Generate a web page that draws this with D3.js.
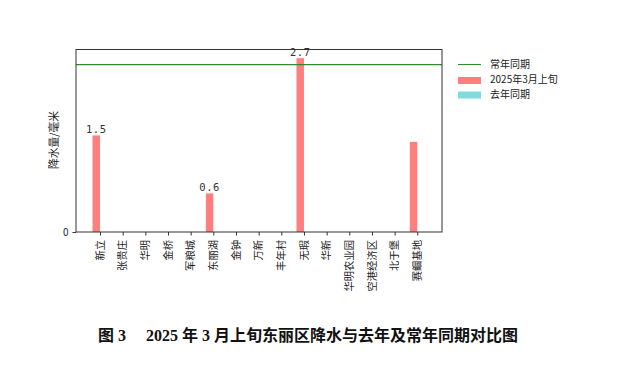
<!DOCTYPE html>
<html><head><meta charset="utf-8">
<script src="https://cdn.jsdelivr.net/npm/d3@7"></script>
<style>body{margin:0;background:#fff}svg{display:block}</style>
</head><body>
<script>
const categories = ["新立","张贵庄","华明","金桥","军粮城","东丽湖","金钟","万新","丰年村","无瑕","华新","华明农业园","空港经济区","北于堡","赛鲴基地"];
const current = [1.5,0,0,0,0,0.6,0,0,0,2.7,0,0,0,0,1.4];
const lastYear = [0,0,0,0,0,0,0,0,0,0,0,0,0,0,0];
const valueLabels = ["1.5","","","","","0.6","","","","2.7","","","","",""];
const normal = 2.6;
const yTicks = [0];
const legendNames = ["常年同期","2025年3月上旬","去年同期"];
const title = "图 3\u2003 2025 年 3 月上旬东丽区降水与去年及常年同期对比图";

const W=619,H=368;
const L=76,R=442,T=49.5,B=232;
const svg=d3.select("body").append("svg").attr("width",W).attr("height",H);
const sans="'Noto Sans CJK SC','DejaVu Sans',sans-serif";

const step=(417.3-100)/14;
const x=d3.scalePoint().domain(categories).range([100,417.3]);
const y=d3.scaleLinear().domain([0,2.7*1.05]).range([B,T]);
const bw=step*0.33;
const red="#ff7f7f", cyan="#7fdcdc", green="#2e8b2e";

// bars
svg.append("g").selectAll("rect").data(categories).join("rect")
  .attr("x",d=>x(d)-bw).attr("width",bw)
  .attr("y",(d,i)=>y(current[i])).attr("height",(d,i)=>B-y(current[i]))
  .attr("fill",red);
svg.append("g").selectAll("rect").data(categories).join("rect")
  .attr("x",d=>x(d)).attr("width",bw)
  .attr("y",(d,i)=>y(lastYear[i])).attr("height",(d,i)=>B-y(lastYear[i]))
  .attr("fill",cyan);
// labels
svg.append("g").selectAll("text").data(categories).join("text")
  .attr("x",d=>x(d)-bw/2).attr("y",(d,i)=>y(current[i])-2.5)
  .attr("text-anchor","middle").attr("font-family","'DejaVu Sans Mono',monospace").attr("font-size",10.5)
  .attr("letter-spacing","0.5px").attr("fill","#333").text((d,i)=>valueLabels[i]);
// normal line
svg.append("line").attr("x1",L).attr("x2",R).attr("y1",y(normal)).attr("y2",y(normal))
  .attr("stroke",green).attr("stroke-width",1.1);

// frame
svg.append("rect").attr("x",L).attr("y",T).attr("width",R-L).attr("height",B-T)
  .attr("fill","none").attr("stroke","#333").attr("stroke-width",1);

// x axis
const xa=svg.append("g").attr("transform",`translate(0,${B})`)
  .call(d3.axisBottom(x).tickSize(3.5).tickFormat(""));
xa.select(".domain").remove();
xa.selectAll("line").attr("stroke","#333");
svg.append("g").selectAll("text").data(categories).join("text")
  .attr("transform",d=>`translate(${x(d)+3.8},240) rotate(-90)`)
  .attr("text-anchor","end").attr("font-family",sans).attr("font-size",10.3).attr("fill","#222")
  .text(d=>d);
// y axis
const ya=svg.append("g").attr("transform",`translate(${L},0)`)
  .call(d3.axisLeft(y).tickValues(yTicks).tickSize(3.5).tickFormat(d3.format("d")));
ya.select(".domain").remove();
ya.selectAll("line").attr("stroke","#333");
ya.selectAll("text").attr("font-family",sans).attr("font-size",10).attr("fill","#222").attr("dx","-1");

svg.append("text").attr("transform",`translate(58,${140}) rotate(-90)`)
  .attr("text-anchor","middle").attr("font-family",sans).attr("font-size",10.8).attr("fill","#222")
  .text("降水量/毫米");

// legend
const lg=svg.append("g");
lg.append("line").attr("x1",458).attr("x2",481).attr("y1",64.5).attr("y2",64.5).attr("stroke",green).attr("stroke-width",1.1);
lg.append("rect").attr("x",458).attr("y",77).attr("width",23).attr("height",7).attr("fill",red);
lg.append("rect").attr("x",458).attr("y",91.5).attr("width",23).attr("height",7).attr("fill",cyan);
legendNames.forEach((n,i)=>{
  lg.append("text").attr("x",490).attr("y",64.5+i*15).attr("dy","0.35em")
   .attr("font-family",sans).attr("font-size",10).attr("fill","#222").text(n);
});

// title
svg.append("text").attr("x",308).attr("y",341).attr("text-anchor","middle")
  .attr("font-family","'Liberation Serif','Noto Sans CJK SC',serif").attr("font-weight","bold")
  .attr("font-size",16).attr("fill","#111").text(title);
</script>
</body></html>
